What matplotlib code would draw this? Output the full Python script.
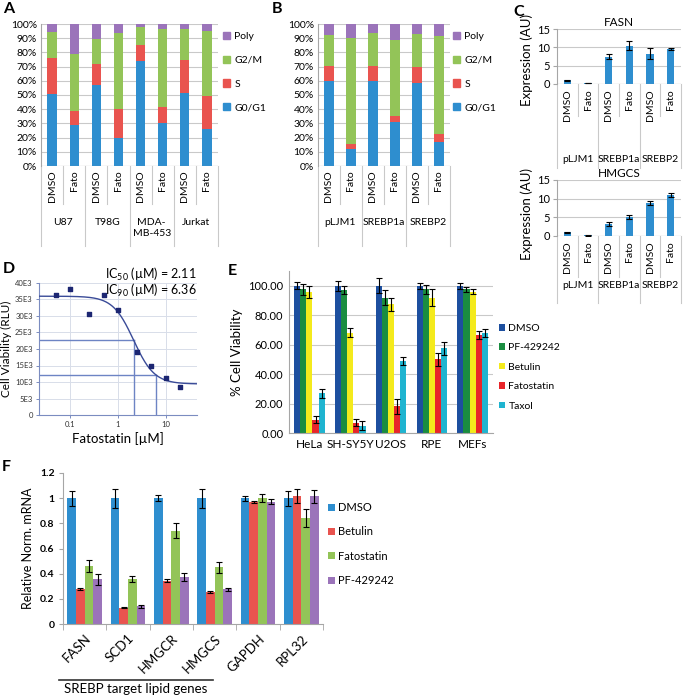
import numpy as np
import matplotlib
matplotlib.use('Agg')
import matplotlib.pyplot as plt
from matplotlib.patches import Patch
from matplotlib.lines import Line2D
from matplotlib.transforms import blended_transform_factory

plt.rcParams['font.family'] = ['Lato', 'DejaVu Sans']

W, H = 683, 696

# ---- data ----
phases = ['G0/G1', 'S', 'G2/M', 'Poly']
phase_colors = ['#2e8ecf', '#e9544f', '#93c458', '#9b74ba']

a_groups = ['U87', 'T98G', 'MDA-\nMB-453', 'Jurkat']
a_treat = ['DMSO', 'Fato'] * 4
a_g0g1 = [50.5, 28.8, 56.8, 20.0, 73.6, 30.0, 51.2, 26.0]
a_s = [25.9, 9.9, 14.9, 19.9, 11.3, 11.5, 23.1, 23.0]
a_g2m = [18.2, 40.3, 17.5, 54.0, 13.0, 54.7, 21.9, 46.3]
a_poly = [5.4, 21.0, 10.8, 6.1, 2.1, 3.8, 3.8, 4.7]

b_groups = ['pLJM1', 'SREBP1a', 'SREBP2']
b_treat = ['DMSO', 'Fato'] * 3
b_g0g1 = [60.0, 11.8, 60.0, 31.3, 58.8, 17.2]
b_s = [10.6, 4.0, 10.6, 4.2, 10.6, 5.4]
b_g2m = [21.4, 74.2, 23.0, 53.0, 23.8, 68.7]
b_poly = [8.0, 10.0, 6.4, 11.5, 6.8, 8.7]

c_groups = ['pLJM1', 'SREBP1a', 'SREBP2']
c_treat = ['DMSO', 'Fato'] * 3
fasn = [1.0, 0.25, 7.5, 10.5, 8.3, 9.5]
fasn_err = [0.1, 0.05, 0.7, 1.2, 1.4, 0.2]
hmgcs = [1.0, 0.15, 3.2, 5.0, 8.8, 11.0]
hmgcs_err = [0.1, 0.05, 0.6, 0.5, 0.6, 0.5]

d_conc = [0.05, 0.1, 0.25, 0.5, 1, 2.5, 5, 10, 20]
d_rlu = [36500, 38300, 30600, 36400, 31900, 19100, 14900, 11300, 8600]
d_top, d_bottom, d_ic50, d_hill = 36000, 9400, 2.11, 2.0
d_ic90 = 6.36

e_cells = ['HeLa', 'SH-SY5Y', 'U2OS', 'RPE', 'MEFs']
e_drugs = ['DMSO', 'PF-429242', 'Betulin', 'Fatostatin', 'Taxol']
e_colors = ['#1d4f9f', '#1a8d40', '#f4ea1c', '#e8252a', '#1fb4d0']
e_dmso = [100.0, 100.0, 100.0, 100.0, 100.0]
e_pf = [97.5, 97.0, 92.0, 97.5, 97.5]
e_betulin = [95.5, 68.0, 87.5, 92.0, 96.0]
e_fato = [9.0, 7.0, 18.0, 50.0, 66.5]
e_taxol = [27.0, 5.0, 49.0, 57.5, 68.0]
e_dmso_err = [2.5, 3.5, 5.0, 2.0, 2.0]
e_pf_err = [3.5, 2.5, 5.0, 3.0, 1.5]
e_betulin_err = [4.0, 3.0, 4.5, 6.0, 1.5]
e_fato_err = [2.5, 2.5, 5.0, 4.5, 3.0]
e_taxol_err = [3.0, 3.0, 2.5, 4.5, 2.5]

f_genes = ['FASN', 'SCD1', 'HMGCR', 'HMGCS', 'GAPDH', 'RPL32']
f_drugs = ['DMSO', 'Betulin', 'Fatostatin', 'PF-429242']
f_colors = ['#2e8ecf', '#e9544f', '#93c458', '#9b74ba']
f_dmso = [1.0, 1.0, 1.0, 1.0, 1.0, 1.0]
f_betulin = [0.28, 0.13, 0.345, 0.255, 0.97, 1.015]
f_fato = [0.46, 0.355, 0.74, 0.45, 1.0, 0.84]
f_pf = [0.355, 0.14, 0.375, 0.275, 0.97, 1.015]
f_dmso_err = [0.06, 0.075, 0.025, 0.075, 0.02, 0.06]
f_betulin_err = [0.01, 0.005, 0.015, 0.005, 0.01, 0.055]
f_fato_err = [0.045, 0.025, 0.06, 0.045, 0.03, 0.07]
f_pf_err = [0.045, 0.01, 0.03, 0.01, 0.02, 0.05]

GRID = '#c9c9c9'
AXC = '#a6a6a6'

fig = plt.figure(figsize=(W / 100, H / 100), dpi=100)


def fx(px):
    return px / W


def fy(py):
    return 1 - py / H


def add_ax(x0, y0, x1, y1):
    return fig.add_axes([fx(x0), fy(y1), (x1 - x0) / W, (y1 - y0) / H])


def plain_spines(ax, color=AXC):
    ax.spines['top'].set_visible(False)
    ax.spines['right'].set_visible(False)
    ax.spines['left'].set_color(color)
    ax.spines['bottom'].set_color(color)
    ax.tick_params(colors='black', length=3, width=0.8)
    ax.tick_params(axis='both', color=color)


def multilevel(ax, treat, groups, bot_px, y_lab, y_short, y_grp, y_long, fs):
    # excel style two-row category axis
    tr = blended_transform_factory(ax.transData, fig.transFigure)
    for i, t in enumerate(treat):
        ax.text(i, fy(y_lab), t, rotation=90, ha='center', va='top',
                transform=tr, fontsize=fs)
    for i in range(len(treat) + 1):
        y_end = y_long if i % 2 == 0 else y_short
        ax.add_line(Line2D([i - 0.5, i - 0.5], [fy(bot_px), fy(y_end)],
                           transform=tr, color=GRID, lw=0.8, clip_on=False))
    for g, name in enumerate(groups):
        ax.text(2 * g + 0.5, fy(y_grp), name, ha='center', va='top',
                transform=tr, fontsize=fs, linespacing=1.3)


def stacked(ax, segs, treat, groups, leg_x):
    x = np.arange(len(treat))
    bottom = np.zeros(len(x))
    for vals, col in zip(segs, phase_colors):
        ax.bar(x, vals, 0.42, bottom=bottom, color=col, zorder=2)
        bottom += np.array(vals)
    ax.set_xlim(-0.5, len(x) - 0.5)
    ax.set_ylim(0, 100)
    ax.set_yticks(range(0, 101, 10))
    ax.set_yticklabels([f'{v}%' for v in range(0, 101, 10)], fontsize=7.5)
    ax.set_xticks([])
    ax.yaxis.grid(True, color=GRID, lw=0.8, zorder=0)
    ax.set_axisbelow(True)
    plain_spines(ax)
    ax.spines['bottom'].set_visible(False)
    ax.tick_params(axis='y', length=0, pad=3)
    ax.axhline(0, color=AXC, lw=0.8, zorder=3)
    multilevel(ax, treat, groups, 166, 170, 204, 218, 246, 7.5)
    handles = [Patch(color=c) for c in phase_colors][::-1]
    ax.legend(handles, phases[::-1], loc='upper left',
              bbox_to_anchor=(fx(leg_x), fy(32)), bbox_transform=fig.transFigure,
              frameon=False, fontsize=7.5, handlelength=0.7, handleheight=0.7,
              handletextpad=0.4, labelspacing=1.38, borderpad=0, borderaxespad=0)


# ---- A ----
axA = add_ax(41, 24, 218, 166)
stacked(axA, [a_g0g1, a_s, a_g2m, a_poly], a_treat, a_groups, 223)

# ---- B ----
axB = add_ax(318, 24, 450, 166)
stacked(axB, [b_g0g1, b_s, b_g2m, b_poly], b_treat, b_groups, 453)


# ---- C ----
def expr_panel(ax, vals, errs, title, bot_px, lab_short, grp_px, lab_long):
    x = np.arange(len(vals))
    ax.bar(x, vals, 0.36, color='#2e8ecf', zorder=2,
           yerr=errs, capsize=2.5, error_kw=dict(lw=0.8, capthick=0.8, ecolor='black'))
    ax.set_xlim(-0.5, len(x) - 0.5)
    ax.set_ylim(0, 15)
    ax.set_yticks([0, 5, 10, 15])
    ax.set_yticklabels(['0', '5', '10', '15'], fontsize=8)
    ax.set_xticks([])
    ax.yaxis.grid(True, color=GRID, lw=0.8, zorder=0)
    ax.set_axisbelow(True)
    plain_spines(ax)
    ax.spines['bottom'].set_visible(False)
    ax.axhline(0, color=AXC, lw=0.8, zorder=3)
    ax.tick_params(axis='y', length=3, pad=2)
    ax.set_title(title, fontsize=8.5, pad=2)
    multilevel(ax, c_treat, c_groups, bot_px, bot_px + 5, lab_short, grp_px, lab_long, 7.5)


axC1 = add_ax(557, 29, 681, 84)
expr_panel(axC1, fasn, fasn_err, 'FASN', 84, 116, 155, 168)
axC2 = add_ax(557, 180, 681, 236)
expr_panel(axC2, hmgcs, hmgcs_err, 'HMGCS', 236, 277, 281, 303)
fig.text(fx(527), fy(60), 'Expression (AU)', rotation=90, ha='center', va='center', fontsize=9.5)
fig.text(fx(527), fy(214), 'Expression (AU)', rotation=90, ha='center', va='center', fontsize=9.5)

# ---- D ----
axD = add_ax(39, 283, 197, 415)
dcol = '#7b8cc0'
axD.set_xscale('log')
axD.set_xlim(0.022, 45)
axD.set_ylim(0, 40000)
axD.set_yticks(range(0, 40001, 5000))
axD.set_yticklabels(['0'] + [f'{v}E3' for v in range(5, 41, 5)], fontsize=5.5, color='#333333')
axD.set_xticks([0.1, 1, 10])
axD.set_xticklabels(['0.1', '1', '10'], fontsize=5.5, color='#333333')
axD.minorticks_off()
axD.grid(True, color='#d8dde9', lw=0.7)
axD.set_axisbelow(True)
axD.spines['top'].set_visible(False)
axD.spines['right'].set_visible(False)
axD.spines['left'].set_color(dcol)
axD.spines['bottom'].set_color(dcol)
axD.tick_params(color=dcol, length=2.5, width=0.7, pad=2)


def fourpl(c):
    return d_bottom + (d_top - d_bottom) / (1 + (c / d_ic50) ** d_hill)


xs = np.logspace(np.log10(0.022), np.log10(45), 300)
axD.plot(xs, fourpl(xs), color='#3a4b98', lw=1.0, zorder=3)
for ic in (d_ic50, d_ic90):
    yv = fourpl(ic)
    axD.plot([0.022, ic], [yv, yv], color='#6d84c4', lw=1.0, zorder=2)
    axD.plot([ic, ic], [0, yv], color='#6d84c4', lw=1.0, zorder=2)
axD.scatter(d_conc, d_rlu, marker='s', s=5, color='#1c2672', zorder=4)
axD.set_xlabel('Fatostatin [µM]', fontsize=9.5, labelpad=3)
axD.set_ylabel('Cell Viability (RLU)', fontsize=8.5, labelpad=2)
fig.text(fx(197), fy(274), r'IC$_{\mathregular{50}}$ (µM) = 2.11', ha='right', va='center', fontsize=9)
fig.text(fx(197), fy(290), r'IC$_{\mathregular{90}}$ (µM) = 6.36', ha='right', va='center', fontsize=9)

# ---- E ----
axE = add_ax(289, 271, 493, 433)
xe = np.arange(len(e_cells))
e_vals = [e_dmso, e_pf, e_betulin, e_fato, e_taxol]
e_errs = [e_dmso_err, e_pf_err, e_betulin_err, e_fato_err, e_taxol_err]
for k, (v, er, col, name) in enumerate(zip(e_vals, e_errs, e_colors, e_drugs)):
    axE.bar(xe + (k - 2) * 0.15, v, 0.15, color=col, label=name, zorder=2,
            yerr=er, capsize=2.5, error_kw=dict(lw=0.8, capthick=0.8, ecolor='black'))
axE.set_xlim(-0.5, len(e_cells) - 0.5)
axE.set_ylim(0, 110)
axE.set_yticks(range(0, 101, 20))
axE.set_yticklabels([f'{v:.2f}' for v in range(0, 101, 20)], fontsize=8)
axE.set_xticks(xe)
axE.set_xticklabels(e_cells, fontsize=8.5)
axE.yaxis.grid(True, color=GRID, lw=0.8)
axE.set_axisbelow(True)
plain_spines(axE)
axE.tick_params(length=0, pad=4)
axE.set_ylabel('% Cell Viability', fontsize=9.5, labelpad=4)
axE.legend(loc='upper left', bbox_to_anchor=(fx(499), fy(324)), bbox_transform=fig.transFigure,
           frameon=False, fontsize=7.5, handlelength=0.6, handleheight=0.6,
           handletextpad=0.3, labelspacing=1.0, borderpad=0, borderaxespad=0)

# ---- F ----
axF = add_ax(63, 473, 323, 624)
xf = np.arange(len(f_genes))
f_vals = [f_dmso, f_betulin, f_fato, f_pf]
f_errs = [f_dmso_err, f_betulin_err, f_fato_err, f_pf_err]
for k, (v, er, col, name) in enumerate(zip(f_vals, f_errs, f_colors, f_drugs)):
    axF.bar(xf + (k - 1.5) * 0.2, v, 0.2, color=col, label=name, zorder=2,
            yerr=er, capsize=2.5, error_kw=dict(lw=0.8, capthick=0.8, ecolor='black'))
axF.set_xlim(-0.5, len(f_genes) - 0.5)
axF.set_ylim(0, 1.2)
axF.set_yticks([0, 0.2, 0.4, 0.6, 0.8, 1.0, 1.2])
axF.set_yticklabels(['0', '0.2', '0.4', '0.6', '0.8', '1', '1.2'], fontsize=7.5, fontweight='bold')
plain_spines(axF)
axF.set_xticks(xf)
axF.set_xticklabels(f_genes, fontsize=9.5, rotation=45, ha='right', rotation_mode='anchor')
axF.set_xticks(np.arange(-0.5, len(f_genes)), minor=True)
axF.tick_params(axis='x', which='major', length=0, pad=6)
axF.tick_params(axis='x', which='minor', length=4, color=AXC)
axF.tick_params(axis='y', length=3, pad=3)
axF.set_ylabel('Relative Norm. mRNA', fontsize=9, labelpad=4)
axF.legend(loc='upper left', bbox_to_anchor=(fx(328), fy(502)), bbox_transform=fig.transFigure,
           frameon=False, fontsize=8, handlelength=0.6, handleheight=0.6,
           handletextpad=0.3, labelspacing=1.2, borderpad=0, borderaxespad=0)
fig.add_artist(Line2D([fx(59), fx(213)], [fy(680), fy(680)], color='#333333', lw=1.2))
fig.text(fx(136), fy(689), 'SREBP target lipid genes', ha='center', va='center', fontsize=9.5)

# ---- panel letters ----
for lab, px, py in [('A', 3, 2), ('B', 272, 2), ('C', 513, 5), ('D', 3, 262), ('E', 228, 264), ('F', 2, 460)]:
    fig.text(fx(px), fy(py), lab, ha='left', va='top', fontsize=11.5, fontweight='bold')

fig.savefig('out.png', dpi=100)
